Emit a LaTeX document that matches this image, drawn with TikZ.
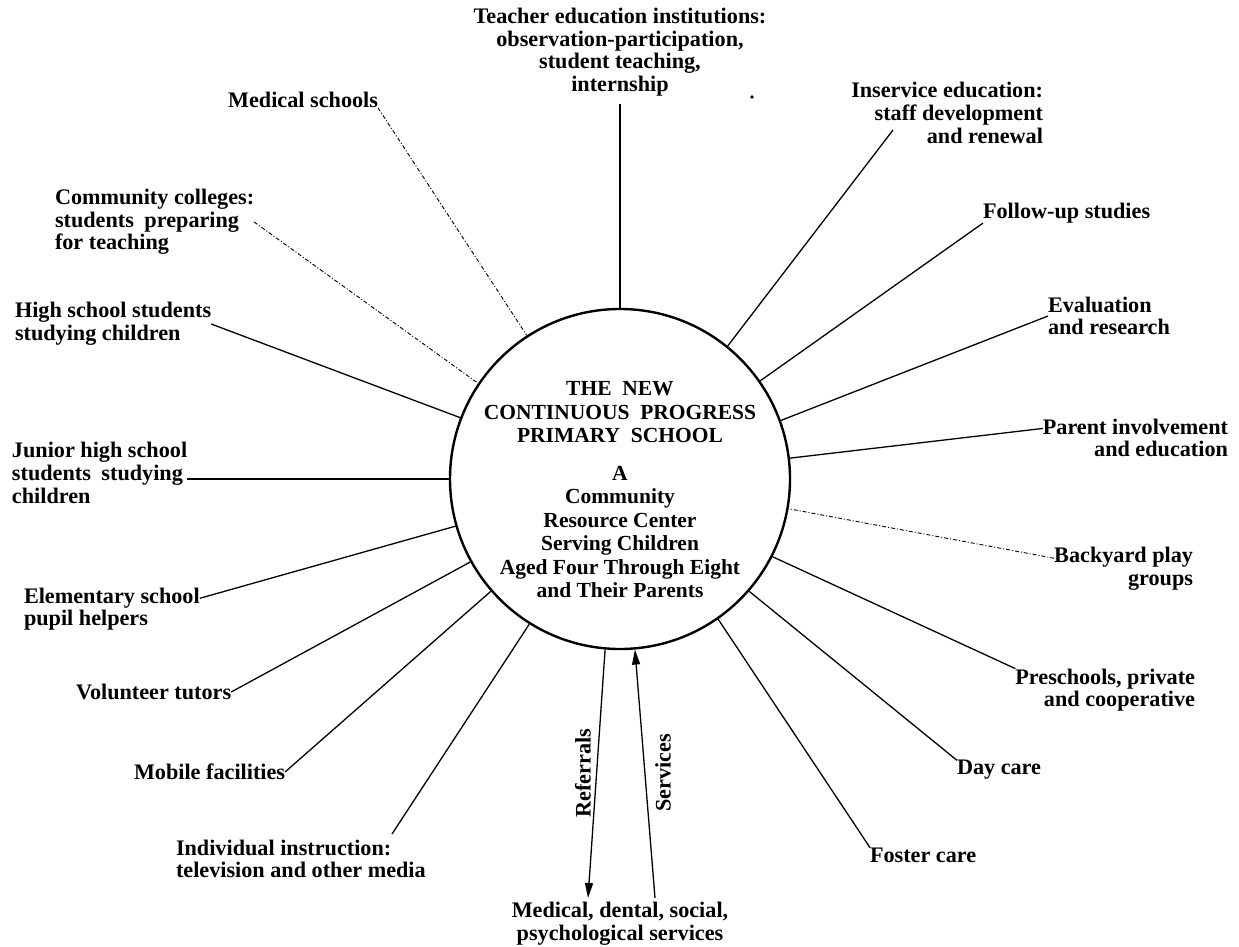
\documentclass[tikz,border=0pt]{standalone}
\usepackage{fontspec}
\setmainfont{Liberation Serif}
\usetikzlibrary{arrows.meta,calc}
\begin{document}
\begin{tikzpicture}[x=1pt,y=-1pt,
  lab/.style={font=\bfseries\fontsize{22.2}{22.6}\selectfont, inner sep=0pt, outer sep=0pt, align=left},
  spoke/.style={line width=1.3pt},
  faint/.style={line width=0.9pt, dash pattern=on 4pt off 2pt on 1pt off 2pt},
  arr/.style={line width=1.3pt, -{Triangle[length=15pt,width=8pt]}}]
\useasboundingbox (0,0) rectangle (1239,947);

% central circle
\node[draw, circle, minimum size=340pt, inner sep=0pt, line width=2.4pt] (c) at (620,479) {};
\node[font=\bfseries\fontsize{21.5}{23.5}\selectfont, align=center, inner sep=0pt] (ct) at (620,490)
  {THE\ \ NEW\\CONTINUOUS\ \ PROGRESS\\PRIMARY\ \ SCHOOL\\[14pt]A\\Community\\Resource Center\\Serving Children\\Aged Four Through Eight\\and Their Parents};

% labels
\node[lab, align=center] (teach) at (620,52) {Teacher education institutions:\\observation-participation,\\student teaching,\\internship};
\node[lab, anchor=east] (med) at (378,100) {Medical schools};
\node[lab, anchor=west] (cc) at (55,222) {Community colleges:\\students\hspace{5pt} preparing\\for teaching};
\node[lab, anchor=west] (hs) at (15,324) {High school students\\studying children};
\node[lab, anchor=west] (jh) at (12,473) {Junior high school\\students\hspace{5pt} studying\\children};
\node[lab, anchor=west] (el) at (24,609) {Elementary school\\pupil helpers};
\node[lab, anchor=west] (vt) at (76,692) {Volunteer tutors};
\node[lab, anchor=west] (mf) at (134,772) {Mobile facilities};
\node[lab, anchor=west] (ii) at (176,859) {Individual instruction:\\television and other media};
\node[lab, align=center] (mds) at (620,924) {Medical, dental, social,\\psychological services};
\node[lab, anchor=west] (fc) at (870,855) {Foster care};
\node[lab, anchor=west] (dc) at (957,770) {Day care};
\node[lab, align=right, anchor=east] (ps) at (1195,690) {Preschools, private\\and cooperative};
\node[lab, align=right, anchor=east] (by) at (1193,569) {Backyard play\\groups};
\node[lab, align=right, anchor=east] (pi) at (1228,438) {Parent involvement\\and education};
\node[lab, anchor=west] (ev) at (1048,316) {Evaluation\\and research};
\node[lab, anchor=west] (fu) at (983,213) {Follow-up studies};
\node[lab, align=right, anchor=east] (ins) at (1043,113) {Inservice education:\\staff development\\and renewal};
\node[lab, rotate=90] (ref) at (583,773) {Referrals};
\node[lab, rotate=90] (srv) at (663,773) {Services};

% free ends
\coordinate (iiend) at (392,834);
\coordinate (refend) at (588,898);
\coordinate (srvend) at (655,898);
\coordinate (insend) at (893,130);

% connectors
\draw[spoke, shorten <=8pt] (teach.south) -- (c.90);
\draw[faint] (med.south east) -- (c.123.8);
\draw[faint] (cc.east) -- (c.146.7);
\draw[spoke] (hs.east) -- (c.159.1);
\draw[spoke] (jh.east |- c.west) -- (c.west);
\draw[spoke] ($(el.east)!0.5!(el.north east)$) -- (c.196.4);
\draw[spoke] (vt.east) -- (c.209.2);
\draw[spoke] (mf.east) -- (c.221.7);
\draw[spoke] (iiend) -- (c.238.2);
\draw[arr] (c.265.3) -- (refend);
\draw[arr] (srvend) -- (c.275.7);
\draw[spoke] (fc.north west) -- (c.305);
\draw[spoke] (dc.north west) -- (c.319.6);
\draw[spoke] (ps.north west) -- (c.333.9);
\draw[faint] ($(by.west)!0.5!(by.north west)$) -- (c.350);
\draw[spoke] ($(pi.west)!0.5!(pi.north west)$) -- (c.7.1);
\draw[spoke] (ev.west) -- (c.20.9);
\draw[spoke] (fu.south west) -- (c.35.7);
\draw[spoke] (insend) -- (c.51.7);

% stray mark
\fill (752,97) circle[radius=1.8pt];
\end{tikzpicture}
\end{document}
